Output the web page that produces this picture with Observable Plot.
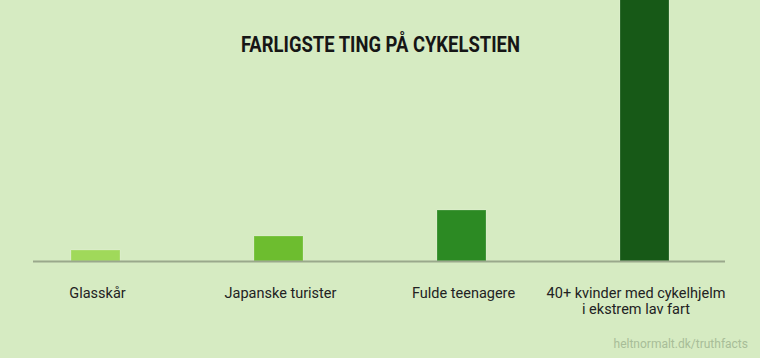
<!DOCTYPE html>
<html>
<head>
<meta charset="utf-8">
<script src="https://cdn.jsdelivr.net/npm/d3@7"></script>
<script src="https://cdn.jsdelivr.net/npm/@observablehq/plot@0.6"></script>
<style>
  html, body { margin: 0; padding: 0; background: #d6ebc2; }
  #wrap { position: relative; width: 760px; height: 358px; overflow: hidden; background: #d6ebc2; }
  #title { position: absolute; left: 0; width: 760px; top: 33px; text-align: center; line-height: 1; }
  #title span { display: inline-block; font-family: Roboto, sans-serif; font-weight: 700;
           font-size: 22.5px; color: #161616; transform-origin: 50% 50%; white-space: nowrap; }
  #footer { position: absolute; right: 12px; top: 337px; font-family: Roboto, sans-serif;
            font-size: 12px; line-height: 14px; color: #a8bd98; }
  #chart { position: absolute; left: 0; top: 0; }
</style>
</head>
<body>
<div id="wrap">
  <div id="chart"></div>
  <div id="title"><span id="titletext">FARLIGSTE TING PÅ CYKELSTIEN</span></div>
  <div id="footer">heltnormalt.dk/truthfacts</div>
</div>
<script>
const categories = ["Glasskår", "Japanske turister", "Fulde teenagere", "40+ kvinder med cykelhjelm\ni ekstrem lav fart"];
const values = [11, 25, 51, 300];
const colors = ["#a0d95a", "#6dbd2f", "#2c8a23", "#175917"];

const data = categories.map((c, i) => ({category: c, value: values[i], color: colors[i]}));
const labelStyle = {frameAnchor: "bottom", lineAnchor: "top", dy: 25, lineHeight: 1.12,
  fontSize: 14.5, fontFamily: "Roboto, sans-serif", fill: "#222"};

const chart = Plot.plot({
  width: 760,
  height: 358,
  marginTop: 0,
  marginBottom: 97,
  marginLeft: 4,
  marginRight: 24,
  style: {background: "transparent"},
  x: {domain: categories, paddingInner: 0.732, paddingOuter: 0.366, axis: null},
  y: {domain: [0, 261], axis: null},
  marks: [
    Plot.barY(data, {x: "category", y: "value", fill: "color", stroke: "white", strokeOpacity: 0.2,
      strokeWidth: 1, clip: true}),
    Plot.ruleY([0], {stroke: "#9aa88c", strokeWidth: 2, insetLeft: 29, insetRight: 11}),
    Plot.text(data.slice(0, 3), {x: "category", text: "category", dx: 1.5, ...labelStyle}),
    Plot.text(data.slice(3), {x: "category", text: "category", dx: -9, ...labelStyle})
  ]
});
document.getElementById("chart").appendChild(chart);

const t = document.getElementById("titletext");
const w = t.getBoundingClientRect().width;
t.style.transform = `scaleX(${279 / w})`;
</script>
</body>
</html>
